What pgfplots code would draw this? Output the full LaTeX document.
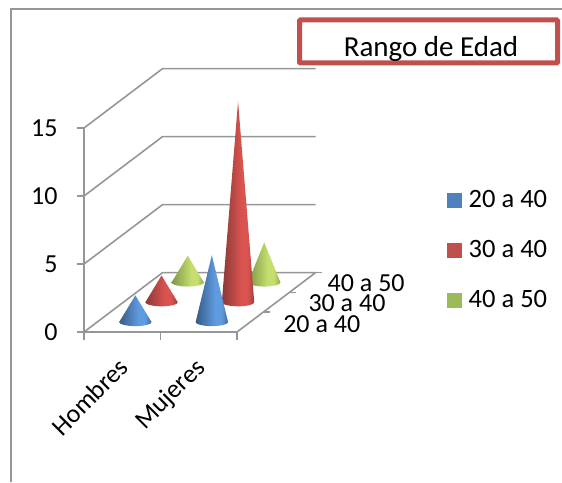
\documentclass[border=0pt]{standalone}
\usepackage{fontspec}
\setmainfont{Carlito}
\usepackage{pgfplots}
\usepackage{pgfplotstable}
\pgfplotsset{compat=1.18}
\definecolor{gridg}{HTML}{969696}
\definecolor{framered}{HTML}{C0504D}
\definecolor{bluelg}{HTML}{4F81BD}
\definecolor{redlg}{HTML}{C0504D}
\definecolor{greenlg}{HTML}{9BBB59}
\definecolor{hiblue}{HTML}{5F9BE0}
\definecolor{hired}{HTML}{D9534F}
\definecolor{higreen}{HTML}{C5DE6E}
\pgfdeclarehorizontalshading{coneblue}{100bp}{color(0bp)=(bluelg!70!black);color(25bp)=(bluelg!70!black);color(55bp)=(hiblue);color(65bp)=(hiblue);color(75bp)=(bluelg!80!black);color(100bp)=(bluelg!80!black)}
\pgfdeclarehorizontalshading{conered}{100bp}{color(0bp)=(redlg!72!black);color(25bp)=(redlg!72!black);color(55bp)=(hired);color(65bp)=(hired);color(75bp)=(redlg!80!black);color(100bp)=(redlg!80!black)}
\pgfdeclarehorizontalshading{conegreen}{100bp}{color(0bp)=(greenlg!80!black);color(25bp)=(greenlg!80!black);color(55bp)=(higreen);color(65bp)=(higreen);color(75bp)=(greenlg!90!black);color(100bp)=(greenlg!90!black)}
\pgfplotstableread{
t dx dz
1 0 0
0 0.212 0
0 0.195 -0.117
0 0.148 -0.213
0 0.081 -0.276
0 0 -0.3
0 -0.081 -0.276
0 -0.148 -0.213
0 -0.195 -0.117
0 -0.212 0
}\coneshape
\newcommand{\cone}[4]{\addplot3[forget plot,draw=none,shading=#4] table[x expr=\thisrow{dx}+#1,y expr=#2,z expr=\thisrow{t}*#3*0.985+\thisrow{dz}] {\coneshape} -- cycle;}
\begin{document}
\begin{tikzpicture}[x=1pt,y=1pt]
\path[use as bounding box] (0,0) rectangle (562,482);
\draw[gridg,line width=2pt] (11,0) -- (11,473) -- (562,473);
\begin{axis}[
  anchor=origin, at={(84pt,150pt)},
  x={(76.5pt,0pt)}, y={(26.2pt,19.8pt)}, z={(0pt,13.6pt)},
  xmin=0,xmax=2,ymin=0,ymax=3,zmin=0,zmax=15,
  clip=false,
  axis line style={draw=none},
  tick style={draw=none},
  xtick={0.5,1.5}, xticklabels={Hombres,Mujeres},
  ytick=\empty,
  ztick={0,5,10,15},
  xtick pos=left, ztick pos=left,
  tick label style={font=\fontsize{26}{26}\selectfont},
  /pgf/number format/assume math mode=true,
  xticklabel style={rotate=45,anchor=north east,xshift=-17.2pt,yshift=-10.2pt},
  zticklabel style={anchor=east,xshift=-23pt},
  legend cell align=left,
  legend style={draw=none,fill=none,at={(367pt,154pt)},anchor=north west,row sep=27.5pt,font=\fontsize{26.5}{26.5}\selectfont,nodes={inner xsep=0pt},/tikz/every odd column/.append style={column sep=7pt}},
  legend image code/.code={\fill[#1] (0pt,-7pt) rectangle (14pt,7pt);},
]
\addlegendimage{bluelg}\addlegendentry{20 a 40}
\addlegendimage{redlg}\addlegendentry{30 a 40}
\addlegendimage{greenlg}\addlegendentry{40 a 50}
% walls and floor
\addplot3[forget plot,gridg,line width=1.6pt] coordinates {(0,0,5)(0,3,5)(2,3,5)};
\addplot3[forget plot,gridg,line width=1.6pt] coordinates {(0,0,10)(0,3,10)(2,3,10)};
\addplot3[forget plot,gridg,line width=1.6pt] coordinates {(0,0,15)(0,3,15)(2,3,15)};
\addplot3[forget plot,gridg,line width=1.6pt] coordinates {(0,0,0)(0,3,0)(2,3,0)(2,0,0)(0,0,0)};
\addplot3[forget plot,gridg,line width=1.6pt] coordinates {(0,0,0)(0,0,15)};
% tick marks
\addplot3[forget plot,gridg,line width=1.6pt] coordinates {(-0.09,0,0)(0,0,0)};
\addplot3[forget plot,gridg,line width=1.6pt] coordinates {(-0.09,0,5)(0,0,5)};
\addplot3[forget plot,gridg,line width=1.6pt] coordinates {(-0.09,0,10)(0,0,10)};
\addplot3[forget plot,gridg,line width=1.6pt] coordinates {(-0.09,0,15)(0,0,15)};
\addplot3[forget plot,gridg,line width=1.6pt] coordinates {(0,0,0)(0,0,-0.6)};
\addplot3[forget plot,gridg,line width=1.6pt] coordinates {(1,0,0)(1,0,-0.6)};
\addplot3[forget plot,gridg,line width=1.6pt] coordinates {(2,0,0)(2,0,-0.6)};
\addplot3[forget plot,gridg,line width=1.6pt] coordinates {(2,1,0)(2.09,1,0)};
\addplot3[forget plot,gridg,line width=1.6pt] coordinates {(2,2,0)(2.09,2,0)};
\addplot3[forget plot,gridg,line width=1.6pt] coordinates {(2,3,0)(2.09,3,0)};
% cones, back to front
\cone{0.5}{2.5}{2}{conegreen}
\cone{1.5}{2.5}{3}{conegreen}
\cone{0.5}{1.5}{2}{conered}
\cone{1.5}{1.5}{15}{conered}
\cone{0.5}{0.5}{2}{coneblue}
\cone{1.5}{0.5}{5}{coneblue}
\node[anchor=west,inner sep=0pt,font=\fontsize{26}{26}\selectfont,xshift=33pt,yshift=-2pt] at (axis cs:2,0.5,0) {20 a 40};
\node[anchor=west,inner sep=0pt,font=\fontsize{26}{26}\selectfont,xshift=32pt,yshift=-1pt] at (axis cs:2,1.5,0) {30 a 40};
\node[anchor=west,inner sep=0pt,font=\fontsize{26}{26}\selectfont,xshift=25pt,yshift=-1pt] at (axis cs:2,2.5,0) {40 a 50};
\end{axis}
\draw[framered,line width=5pt,rounded corners=1pt] (299.5,462) rectangle (557.5,419);
\node[font=\fontsize{29}{29}\selectfont,anchor=base] at (431,425) {Rango de Edad};
\end{tikzpicture}
\end{document}
